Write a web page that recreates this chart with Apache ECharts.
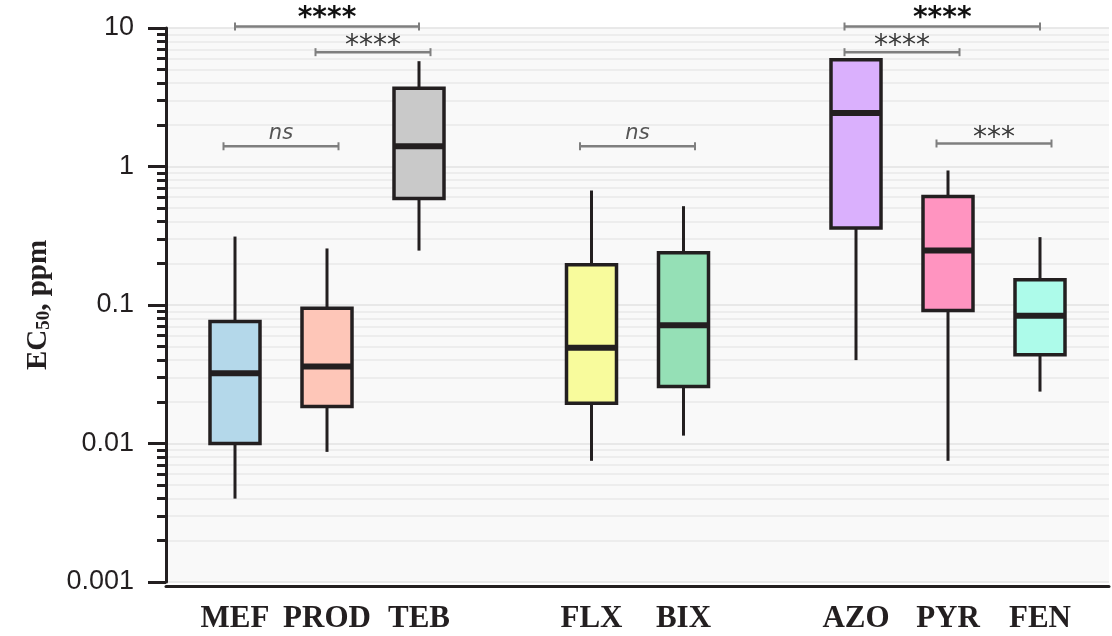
<!DOCTYPE html>
<html>
<head>
<meta charset="utf-8">
<script src="https://cdn.jsdelivr.net/npm/echarts@6/dist/echarts.min.js"></script>
<style>
html, body { margin: 0; padding: 0; background: #fff; }
#main { width: 1112px; height: 636px; }
</style>
</head>
<body>
<div id="main"></div>
<script>
// boxes: name, slot on the x axis, five-number summary (ppm)
var names   = ['MEF', 'PROD', 'TEB', 'FLX', 'BIX', 'AZO', 'PYR', 'FEN'];
var slotOf  = [6, 14, 22, 37, 45, 60, 68, 76];
var lows    = [0.0040, 0.0087, 0.247, 0.0075, 0.0114, 0.040, 0.0075, 0.0237];
var q1s     = [0.0100, 0.0185, 0.587, 0.0195, 0.0258, 0.359, 0.0913, 0.0437];
var medians = [0.0322, 0.0360, 1.40,  0.0491, 0.0715, 2.43,  0.247,  0.0835];
var q3s     = [0.0760, 0.0948, 3.68,  0.195,  0.238,  5.89,  0.607,  0.152];
var highs   = [0.312,  0.256,  5.76,  0.671,  0.517,  5.89,  0.936,  0.309];
var fills   = ['#b4d8ea', '#fec6b8', '#c9c9c9', '#f8fb9c', '#95e0b6', '#dab0fd', '#ff94c0', '#adfbea'];

// significance brackets
var bracketFrom = [6, 13, 5, 36, 59, 59, 67];
var bracketTo   = [22, 23, 15, 46, 76, 69, 77];
var bracketAt   = [10.25, 6.69, 1.40, 1.40, 10.25, 6.69, 1.466];
var bracketText = ['****', '****', 'ns', 'ns', '****', '****', '***'];
var bracketKind = ['bold', 'plain', 'ns', 'ns', 'bold', 'plain', 'plain'];

var yMin = 0.001, yMax = 10;
var slotCount = 83;

var slots = [];
for (var k = 0; k < slotCount; k++) slots.push('');
for (var i = 0; i < names.length; i++) slots[slotOf[i]] = names[i];

var boxData = [];
for (var i = 0; i < names.length; i++) {
    boxData.push([slotOf[i], lows[i], q1s[i], medians[i], q3s[i], highs[i]]);
}
var bracketData = [];
for (var i = 0; i < bracketFrom.length; i++) {
    bracketData.push([bracketFrom[i], bracketAt[i], bracketTo[i]]);
}

function renderBox(params, api) {
    var x = api.value(0);
    var lo = api.coord([x, api.value(1)]);
    var q1 = api.coord([x, api.value(2)]);
    var md = api.coord([x, api.value(3)]);
    var q3 = api.coord([x, api.value(4)]);
    var hi = api.coord([x, api.value(5)]);
    var half = 25;
    var ink = '#231f20';
    return {
        type: 'group',
        children: [
            { type: 'line', shape: { x1: lo[0], y1: lo[1], x2: q1[0], y2: q1[1] }, style: { stroke: ink, lineWidth: 3 } },
            { type: 'line', shape: { x1: q3[0], y1: q3[1], x2: hi[0], y2: hi[1] }, style: { stroke: ink, lineWidth: 3 } },
            { type: 'rect', shape: { x: q3[0] - half, y: q3[1], width: half * 2, height: q1[1] - q3[1] },
              style: { fill: fills[params.dataIndex], stroke: ink, lineWidth: 3.5 } },
            { type: 'line', shape: { x1: md[0] - half, y1: md[1], x2: md[0] + half, y2: md[1] }, style: { stroke: ink, lineWidth: 6 } }
        ]
    };
}

function renderBracket(params, api) {
    var a = api.coord([api.value(0), api.value(1)]);
    var b = api.coord([api.value(2), api.value(1)]);
    var kind = bracketKind[params.dataIndex];
    var grey = '#7f7f7f';
    var txt;
    if (kind === 'bold') {
        txt = { fill: '#111', fontSize: 28, fontWeight: 'bold', fontFamily: 'DejaVu Sans', dy: -6 };
    } else if (kind === 'plain') {
        txt = { fill: '#3a3a3a', fontSize: 28, fontWeight: 'normal', fontFamily: 'DejaVu Sans', dy: -9 };
    } else {
        txt = { fill: '#555', fontSize: 21, fontWeight: 'normal', fontStyle: 'italic', fontFamily: 'DejaVu Sans', dy: 2 };
    }
    return {
        type: 'group',
        children: [
            { type: 'line', shape: { x1: a[0], y1: a[1], x2: b[0], y2: b[1] }, style: { stroke: grey, lineWidth: 2.5 } },
            { type: 'line', shape: { x1: a[0], y1: a[1] - 4, x2: a[0], y2: a[1] + 4 }, style: { stroke: grey, lineWidth: 2 } },
            { type: 'line', shape: { x1: b[0], y1: b[1] - 4, x2: b[0], y2: b[1] + 4 }, style: { stroke: grey, lineWidth: 2 } },
            { type: 'text', style: {
                text: bracketText[params.dataIndex],
                x: (a[0] + b[0]) / 2, y: a[1] - txt.dy,
                align: 'center', verticalAlign: 'bottom',
                fill: txt.fill, fontSize: txt.fontSize, fontWeight: txt.fontWeight,
                fontStyle: txt.fontStyle || 'normal', fontFamily: txt.fontFamily
            } }
        ]
    };
}

var myChart = echarts.init(document.getElementById('main'));
var option = {
    animation: false,
    grid: {
        show: true,
        left: 166,
        right: 0,
        top: 28,
        bottom: 54,
        backgroundColor: '#f9f9f9',
        borderWidth: 0
    },
    xAxis: {
        type: 'category',
        data: slots,
        boundaryGap: false,
        offset: 4,
        axisLine: { show: true, lineStyle: { color: '#231f20', width: 3 } },
        axisTick: { show: false },
        axisLabel: {
            interval: 0,
            margin: 17,
            color: '#231f20',
            fontFamily: 'Liberation Serif',
            fontWeight: 'bold',
            fontSize: 31
        },
        splitLine: { show: false }
    },
    yAxis: {
        type: 'log',
        logBase: 10,
        min: yMin,
        max: yMax,
        name: '{a|EC}{b|50}{a|, ppm}',
        nameLocation: 'middle',
        nameGap: 112,
        nameRotate: 90,
        nameTextStyle: {
            rich: {
                a: { fontFamily: 'Liberation Serif', fontSize: 29, fontWeight: 'bold', color: '#231f20' },
                b: { fontFamily: 'Liberation Serif', fontSize: 19, fontWeight: 'bold', color: '#231f20', padding: [12, 0, 0, 0] }
            }
        },
        axisLine: { show: true, lineStyle: { color: '#231f20', width: 3 } },
        axisTick: { show: true, length: 18, lineStyle: { color: '#231f20', width: 3 } },
        minorTick: { show: true, splitNumber: 9, length: 9, lineStyle: { color: '#231f20', width: 3 } },
        axisLabel: {
            margin: 32,
            color: '#231f20',
            fontFamily: 'Liberation Sans',
            fontSize: 27
        },
        splitLine: { show: true, lineStyle: { color: '#e2e2e2', width: 1.5 } },
        minorSplitLine: { show: true, lineStyle: { color: '#e9e9e9', width: 1.5 } }
    },
    series: [
        {
            name: 'boxes',
            type: 'custom',
            renderItem: renderBox,
            data: boxData,
            encode: { x: 0, y: [1, 2, 3, 4, 5] },
            clip: false
        },
        {
            name: 'brackets',
            type: 'custom',
            renderItem: renderBracket,
            data: bracketData,
            encode: { x: [0, 2], y: 1 },
            clip: false
        }
    ]
};
myChart.setOption(option);
</script>
</body>
</html>
